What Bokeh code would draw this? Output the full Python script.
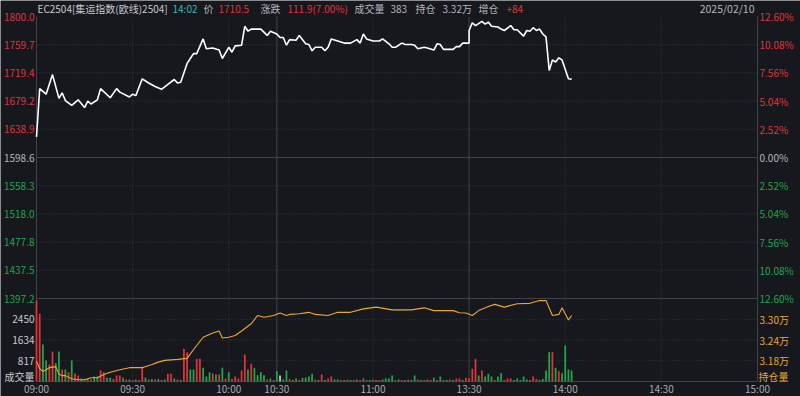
from bokeh.plotting import figure
from bokeh.models import Range1d, LabelSet, Label, ColumnDataSource
from bokeh.embed import file_html
from bokeh.resources import INLINE
from bokeh.core.properties import value

# ---------------- data ----------------
contract = "EC2504[集运指数(欧线)2504]"
quote_time = "14:02"
last_price = "1710.5"
change_txt = "111.9(7.00%)"
volume_total = "383"
open_interest_txt = "3.32万"
oi_change_txt = "+84"
trade_date = "2025/02/10"
prev_settle = 1598.6

price_times = ["09:00", "09:01", "09:03", "09:05", "09:07", "09:08", "09:09", "09:11", "09:13", "09:15",
               "09:16", "09:17", "09:19", "09:20", "09:23", "09:25", "09:26", "09:29", "09:30", "09:31",
               "09:33", "09:35", "09:37", "09:39", "09:41", "09:43", "09:44", "09:45", "09:47", "09:48",
               "09:49", "09:50", "09:52", "09:53", "09:55", "09:57", "09:58", "10:00", "10:01", "10:02",
               "10:04", "10:05", "10:06", "10:07", "10:10", "10:12", "10:13", "10:15", "10:31", "10:32",
               "10:33", "10:34", "10:36", "10:37", "10:39", "10:40", "10:41", "10:42", "10:44", "10:45",
               "10:46", "10:47", "10:49", "10:51", "10:53", "10:55", "10:56", "10:57", "10:58", "11:00",
               "11:02", "11:03", "11:05", "11:06", "11:07", "11:09", "11:10", "11:12", "11:13", "11:14",
               "11:16", "11:17", "11:19", "11:20", "11:21", "11:22", "11:25", "11:26", "11:27", "11:28",
               "11:30", "13:30", "13:31", "13:32", "13:34", "13:35", "13:36", "13:37", "13:39", "13:40",
               "13:41", "13:43", "13:44", "13:45", "13:47", "13:48", "13:49", "13:50", "13:51", "13:52",
               "13:53", "13:54", "13:55", "13:56", "13:57", "13:58", "13:59", "14:01", "14:02"]
price_values = [1628, 1697, 1689, 1717, 1683, 1691, 1680, 1673, 1681, 1670,
                1679, 1675, 1681, 1697, 1684, 1697, 1692, 1685, 1689, 1687,
                1711, 1705, 1700, 1696, 1703, 1710, 1705, 1706, 1733, 1740,
                1747, 1747, 1768, 1754, 1755, 1752, 1740, 1756, 1749, 1758,
                1759, 1786, 1779, 1782, 1782, 1773, 1779, 1775, 1770, 1770,
                1759, 1767, 1766, 1773, 1761, 1760, 1751, 1756, 1756, 1751,
                1756, 1768, 1765, 1762, 1762, 1767, 1762, 1775, 1768, 1765,
                1765, 1768, 1761, 1756, 1756, 1762, 1760, 1760, 1759, 1754,
                1756, 1755, 1752, 1761, 1760, 1753, 1753, 1757, 1757, 1762,
                1762, 1780, 1791, 1787, 1793, 1789, 1792, 1786, 1785, 1782,
                1780, 1787, 1781, 1781, 1772, 1780, 1779, 1784, 1780, 1782,
                1775, 1771, 1723, 1738, 1735, 1741, 1738, 1711, 1710.5]

oi_times = ["09:00", "09:01", "09:02", "09:03", "09:04", "09:06", "09:07", "09:08", "09:09", "09:11",
            "09:13", "09:15", "09:17", "09:19", "09:21", "09:23", "09:26", "09:29", "09:33", "09:36",
            "09:38", "09:40", "09:44", "09:47", "09:48", "09:50", "09:52", "09:55", "09:57", "09:58",
            "10:00", "10:02", "10:04", "10:07", "10:09", "10:11", "10:14", "10:31", "10:33", "10:34",
            "10:37", "10:40", "10:42", "10:46", "10:49", "10:53", "10:57", "11:01", "11:06", "11:12",
            "11:16", "11:19", "11:25", "11:27", "11:29", "13:31", "13:33", "13:36", "13:38", "13:41",
            "13:45", "13:49", "13:52", "13:54", "13:56", "13:58", "13:59", "14:01", "14:02"]
oi_values = [31790, 31570, 31490, 31540, 31600, 31630, 31420, 31370, 31370, 31280,
             31250, 31250, 31310, 31310, 31400, 31470, 31540, 31600, 31600, 31690,
             31760, 31810, 31840, 31870, 32000, 32240, 32480, 32600, 32660, 32460,
             32480, 32530, 32660, 32870, 33110, 33060, 33110, 33180, 33110, 33140,
             33160, 33200, 33140, 33110, 33200, 33200, 33300, 33350, 33270, 33270,
             33330, 33250, 33250, 33190, 33180, 33110, 33250, 33370, 33430, 33350,
             33450, 33460, 33540, 33540, 33110, 33140, 33330, 32980, 33110]

# volume per trading minute from 09:00 (R = up, G = down, W = unchanged)
volume = [3190, 2667, 1458, 827, 670, 1182, 721, 1182, 473, 473,
          367, 827, 315, 236, 120, 100, 90, 80, 200, 200,
          433, 367, 150, 150, 100, 236, 236, 150, 80, 80,
          60, 80, 60, 591, 150, 80, 100, 80, 100, 60,
          80, 302, 302, 120, 80, 60, 1288, 1155, 473, 473,
          894, 894, 540, 200, 367, 315, 276, 276, 540, 120,
          367, 100, 200, 120, 433, 1064, 473, 697, 540, 250,
          367, 250, 80, 120, 60, 407, 236, 80, 433, 100,
          60, 120, 60, 145, 150, 197, 302, 80, 60, 276,
          60, 120, 197, 80, 80, 60, 60, 80, 60, 60,
          80, 60, 120, 60, 60, 80, 60, 60, 80, 120,
          120, 236, 60, 80, 60, 60, 80, 60, 236, 80,
          60, 60, 80, 60, 150, 60, 197, 60, 60, 80,
          60, 120, 120, 60, 150, 120, 500, 894, 236, 433,
          197, 302, 197, 60, 197, 328, 60, 120, 120, 60,
          120, 60, 197, 80, 60, 197, 100, 60, 100, 433,
          1155, 1155, 540, 407, 328, 1418, 473, 433]
volume_side = ("RRGGRRGGRG" "RGRRGRGRGG" "RRGGRRRGRG" "RGRRGRGRGR" "GRRGRGRRGG"
               "RRGGGRGRGR" "GRRRRRGRGG" "GGRGRGWGGR" "GGRGGGGRGR" "GRRGGRGRGR"
               "GRGRGRGRGG" "GGRGRGRGGR" "GRGRGRGRGR" "GRRGRRRRGR" "GGGRGGRRRG"
               "GGGGRRRGGG" "GRGRGGGG")

price_ticks = [1800.0, 1759.7, 1719.4, 1679.2, 1638.9, 1598.6, 1558.3, 1518.0, 1477.8, 1437.5, 1397.2]
volume_ticks = [2450, 1634, 817]
volume_top = 3267
oi_ticks = [33000, 32400, 31800]
oi_bounds = [31200, 33600]
time_labels = ["09:00", "09:30", "10:00", "10:30", "11:00", "13:30", "14:00", "14:30", "15:00"]
session_breaks = ["10:30", "13:30"]

# ---------------- style / layout ----------------
W, H = 800, 396
FRAME_L, FRAME_R = 36, 757          # pixel edges of the chart area
PRICE_TOP, SPLIT, VOL_BOTTOM = 16, 298, 381

BG = "#16181d"
GRID = "#363941"
EDGE = "#40434c"
RED = "#e0333b"
GREEN = "#1fa64a"
GREY = "#b4b6bc"
LIGHT = "#c8cacf"
ORANGE = "#eba834"
TEAL = "#3bb5bb"
FONT = "Noto Sans CJK SC"


def tidx(t):
    h, m = map(int, t.split(":"))
    mins = h * 60 + m
    if mins <= 10 * 60 + 15:
        return mins - 9 * 60
    if mins <= 11 * 60 + 30:
        return 75 + mins - (10 * 60 + 30)
    return 135 + mins - (13 * 60 + 30)


x_end = tidx(time_labels[-1])
p_lo, p_hi = price_ticks[-1], price_ticks[0]

ppm = (FRAME_R - FRAME_L) / x_end
pp = (p_hi - p_lo) / (SPLIT - PRICE_TOP)
vp = volume_top / (VOL_BOTTOM - SPLIT)
op = (oi_bounds[1] - oi_bounds[0]) / (VOL_BOTTOM - SPLIT)

p = figure(width=W, height=H,
           x_range=Range1d(-FRAME_L / ppm, x_end + (W - FRAME_R) / ppm),
           y_range=Range1d(p_lo - (H - SPLIT) * pp, p_hi + PRICE_TOP * pp),
           x_axis_location=None, y_axis_location=None,
           output_backend="svg", toolbar_location=None, min_border=0,
           background_fill_color=BG, border_fill_color=BG, outline_line_color=None)
p.extra_y_ranges = {
    "vol": Range1d(-(H - VOL_BOTTOM) * vp, volume_top + SPLIT * vp),
    "oi": Range1d(oi_bounds[0] - (H - VOL_BOTTOM) * op, oi_bounds[1] + SPLIT * op),
}
p.grid.visible = False

# ---- grid lines ----
dotted_p = [v for v in price_ticks[1:-1] if abs(v - prev_settle) > 1e-6]
p.segment(x0=[0] * len(dotted_p), x1=[x_end] * len(dotted_p), y0=dotted_p, y1=dotted_p,
          line_color=GRID, line_width=1, line_dash="1 2")
p.segment(x0=[0] * len(volume_ticks), x1=[x_end] * len(volume_ticks), y0=volume_ticks, y1=volume_ticks,
          line_color=GRID, line_width=1, line_dash="1 2", y_range_name="vol")

inner = time_labels[1:-1]
dot_t = [tidx(t) for t in inner if t not in session_breaks]
sol_t = [tidx(t) for t in inner if t in session_breaks] + [0, x_end]
p.segment(x0=dot_t, x1=dot_t, y0=[p_lo] * len(dot_t), y1=[p_hi] * len(dot_t),
          line_color=GRID, line_width=1, line_dash="1 2")
p.segment(x0=dot_t, x1=dot_t, y0=[0] * len(dot_t), y1=[volume_top] * len(dot_t),
          line_color=GRID, line_width=1, line_dash="1 2", y_range_name="vol")
p.segment(x0=sol_t, x1=sol_t, y0=[p_lo] * len(sol_t), y1=[p_hi] * len(sol_t),
          line_color=EDGE, line_width=1)
p.segment(x0=sol_t, x1=sol_t, y0=[0] * len(sol_t), y1=[volume_top] * len(sol_t),
          line_color=EDGE, line_width=1, y_range_name="vol")
p.segment(x0=[0, 0], x1=[x_end, x_end], y0=[prev_settle, p_lo], y1=[prev_settle, p_lo],
          line_color=EDGE, line_width=1)
p.segment(x0=[0], x1=[x_end], y0=[0], y1=[0], line_color=EDGE, line_width=1, y_range_name="vol")

# ---- series ----
side_color = {"R": RED, "G": GREEN, "W": LIGHT}
p.vbar(x=list(range(len(volume))), bottom=0, top=volume, width=0.55,
       fill_color=[side_color[s] for s in volume_side], line_color=None, y_range_name="vol")
p.line([tidx(t) for t in oi_times], oi_values, line_color=ORANGE, line_width=1.1, y_range_name="oi")
p.line([tidx(t) for t in price_times], price_values, line_color="#ffffff", line_width=1.6)


# ---- tick labels ----
def tick_color(v):
    if abs(v - prev_settle) < 1e-6:
        return GREY
    return RED if v > prev_settle else GREEN


def labels(ys, texts, colors, xs, align, rng="default"):
    src = ColumnDataSource(dict(y=ys, text=texts, color=colors))
    p.add_layout(LabelSet(x=xs, y="y", x_units="screen", y_units="data", text="text",
                          text_color="color", text_align=align, text_baseline="middle",
                          text_font=value(FONT), text_font_size="10px", source=src,
                          y_range_name=rng))


pcol = [tick_color(v) for v in price_ticks]
labels(price_ticks, [f"{v:.1f}" for v in price_ticks], pcol, FRAME_L - 2, "right")
labels(price_ticks, [f"{abs(v - prev_settle) / prev_settle * 100:.2f}%" for v in price_ticks],
       pcol, FRAME_R + 2, "left")
labels(volume_ticks, [str(v) for v in volume_ticks], [LIGHT] * len(volume_ticks),
       FRAME_L - 2, "right", "vol")
labels(oi_ticks, [f"{v / 10000:.2f}万" for v in oi_ticks], [ORANGE] * len(oi_ticks),
       FRAME_R + 2, "left", "oi")

p.add_layout(Label(x=FRAME_L - 2, y=H - 376, x_units="screen", y_units="screen", text="成交量",
                   text_color=LIGHT, text_font=FONT, text_font_size="10px",
                   text_baseline="middle", text_align="right"))
p.add_layout(Label(x=FRAME_R + 1, y=H - 376, x_units="screen", y_units="screen", text="持仓量",
                   text_color=ORANGE, text_font=FONT, text_font_size="10px",
                   text_baseline="middle", text_align="left"))

tsrc = ColumnDataSource(dict(x=[tidx(t) for t in time_labels], text=time_labels))
p.add_layout(LabelSet(x="x", y=H - 388, x_units="data", y_units="screen", text="text",
                      text_color="#a9abb1", text_align="center", text_baseline="middle",
                      text_font=value(FONT), text_font_size="10px", source=tsrc))

# ---- header ----
header = [
    (contract, 37, LIGHT), (quote_time, 172, TEAL), ("价", 203, GREY), (last_price, 218, RED),
    ("涨跌", 260, GREY), (change_txt, 287, RED), ("成交量", 354, GREY), (volume_total, 390, GREY),
    ("持仓", 415, GREY), (open_interest_txt, 442, GREY), ("增仓", 478, GREY), (oi_change_txt, 506, RED),
]
for txt, xo, col in header:
    p.add_layout(Label(x=xo, y=H - 8, x_units="screen", y_units="screen", text=txt,
                       text_color=col, text_font=FONT, text_font_size="10px",
                       text_baseline="middle", text_align="left"))
p.add_layout(Label(x=754, y=H - 8, x_units="screen", y_units="screen", text=trade_date,
                   text_color=GREY, text_font=FONT, text_font_size="10.5px",
                   text_baseline="middle", text_align="right"))

open("out.html", "w").write(file_html(p, INLINE, title="EC2504"))
